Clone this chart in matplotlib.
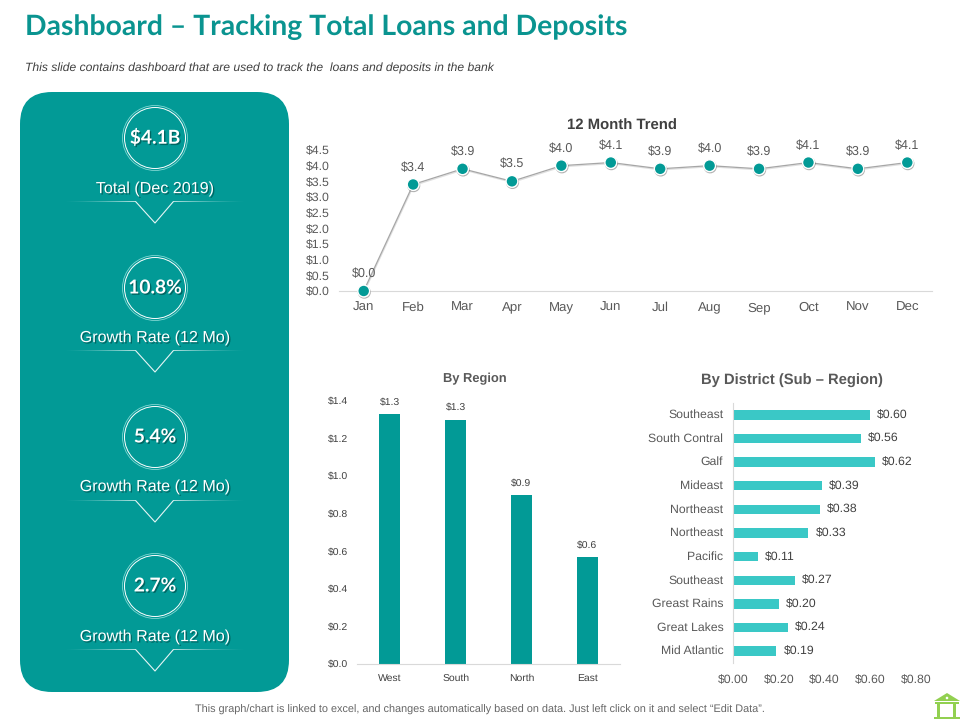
import numpy as np
import matplotlib
matplotlib.use("Agg")
import matplotlib.pyplot as plt
import matplotlib.patheffects as pe
from matplotlib.patches import FancyBboxPatch, Circle, Polygon, Rectangle

plt.rcParams['font.family'] = ['Liberation Sans', 'DejaVu Sans']
plt.rcParams['text.hinting'] = 'no_hinting'
plt.rcParams['text.hinting_factor'] = 8

# ---- data ----
months = ["Jan", "Feb", "Mar", "Apr", "May", "Jun", "Jul", "Aug", "Sep", "Oct", "Nov", "Dec"]
trend_values = [0.0, 3.4, 3.9, 3.5, 4.0, 4.1, 3.9, 4.0, 3.9, 4.1, 3.9, 4.1]
trend_ticks = [0.0, 0.5, 1.0, 1.5, 2.0, 2.5, 3.0, 3.5, 4.0, 4.5]

regions = ["West", "South", "North", "East"]
region_values = [1.33, 1.30, 0.90, 0.57]
region_labels = ["$1.3", "$1.3", "$0.9", "$0.6"]
region_ticks = [0.0, 0.2, 0.4, 0.6, 0.8, 1.0, 1.2, 1.4]

districts = ["Southeast", "South Contral", "Galf", "Mideast", "Northeast", "Northeast",
             "Pacific", "Southeast", "Greast Rains", "Great Lakes", "Mid Atlantic"]
district_values = [0.60, 0.56, 0.62, 0.39, 0.38, 0.33, 0.11, 0.27, 0.20, 0.24, 0.19]
district_ticks = [0.00, 0.20, 0.40, 0.60, 0.80]

kpi_values = ["$4.1B", "10.8%", "5.4%", "2.7%"]
kpi_labels = ["Total (Dec 2019)", "Growth Rate (12 Mo)", "Growth Rate (12 Mo)", "Growth Rate (12 Mo)"]

TEAL = "#029A96"
TURQ = "#3AC8C6"
W, H = 960, 720
fig = plt.figure(figsize=(9.6, 7.2), dpi=100, facecolor="white")


def px_axes(l, t, r, b):
    return fig.add_axes([l / W, 1 - b / H, (r - l) / W, (b - t) / H])


# ---- page layer in pixel coordinates ----
bg = fig.add_axes([0, 0, 1, 1], zorder=0)
bg.set_axis_off()

bg.add_patch(FancyBboxPatch((20 + 32, 92 + 32), 269 - 64, 600 - 64,
                            boxstyle="round,pad=32,rounding_size=32",
                            fc=TEAL, ec="none"))

text_shadow = [pe.SimplePatchShadow(offset=(1, -1), shadow_rgbFace="#00504d", alpha=0.7), pe.Normal()]

centers = [138, 288, 437, 586]
label_y = [189, 338, 487, 637]
rule_y = [202, 351, 501, 650]

grad = np.zeros((1, 256, 4))
grad[..., :3] = 1
grad[..., 3] = np.linspace(0, 1, 256) ** 1.5 * 0.7

for cy, ly, ry, val, lab in zip(centers, label_y, rule_y, kpi_values, kpi_labels):
    bg.add_patch(Circle((155, cy), 30.5, fc="none", ec="white", lw=0.7))
    bg.add_patch(Circle((155, cy), 32.5, fc="none", ec="#7fd6d2", lw=0.6))
    bg.text(155, cy, val, color="white", fontsize=13.8, fontweight="bold", family="Lato",
            ha="center", va="center", path_effects=text_shadow)
    bg.text(155, ly, lab, color="white", fontsize=11.6, ha="center", va="center",
            path_effects=text_shadow)
    bg.imshow(grad, extent=(62, 136, ry + 0.5, ry - 0.5), aspect="auto", zorder=2)
    bg.imshow(grad[:, ::-1], extent=(173, 248, ry + 0.5, ry - 0.5), aspect="auto", zorder=2)
    bg.plot([136, 155, 173], [ry, ry + 21, ry], color="white", lw=0.8, alpha=0.9)

bg.set_xlim(0, W)
bg.set_ylim(H, 0)

bg.text(25, 27, "Dashboard \u2013 Tracking Total Loans and Deposits", color="#0A9490",
        fontsize=20.45, fontweight="bold", family="Lato", ha="left", va="center")
bg.text(25, 68, "This slide contains dashboard that are used to track the  loans and deposits in the bank",
        color="#404040", fontsize=8.7, style="italic", ha="left", va="center")
bg.text(480, 710, "This graph/chart is linked to excel, and changes automatically based on data. Just left click on it and select \u201cEdit Data\u201d.",
        color="#666666", fontsize=7.8, ha="center", va="center")

# bank icon
GREEN = "#92D050"
bg.add_patch(Polygon([(934, 701), (947, 693), (960, 701)], fc=GREEN, ec="none"))
bg.add_patch(Circle((947, 698), 1.3, fc="white", ec="none"))
bg.add_patch(Rectangle((935, 702), 24, 2, fc=GREEN, ec="none"))
bg.add_patch(Rectangle((937, 704), 3, 13, fc=GREEN, ec="none"))
bg.add_patch(Rectangle((953, 704), 3, 13, fc=GREEN, ec="none"))
bg.add_patch(Rectangle((934, 717), 26, 2, fc=GREEN, ec="none"))

# ---- 12 month trend ----
ax1 = px_axes(339, 150, 932, 291)
ax1.patch.set_alpha(0)
x = np.arange(len(months))
ax1.plot(x, trend_values, color="#A6A6A6", lw=0.9, zorder=2, clip_on=False,
         path_effects=[pe.SimpleLineShadow(offset=(0.4, -0.8), alpha=0.12), pe.Normal()])
ax1.plot(x, trend_values, ls="none", marker="o", ms=8.5, mfc=TEAL, mec="white", mew=1.0,
         zorder=3, clip_on=False,
         path_effects=[pe.SimpleLineShadow(offset=(0.4, -0.8), alpha=0.3), pe.Normal()])
for xi, v in zip(x, trend_values):
    ax1.annotate(f"${v:.1f}", (xi, v), xytext=(0, 8), textcoords="offset points",
                 ha="center", va="bottom", fontsize=9, color="#595959")
ax1.set_xlim(-0.5, 11.5)
ax1.set_ylim(0, 4.5)
ax1.set_xticks(x, months)
ax1.set_yticks(trend_ticks, [f"${t:.1f}" for t in trend_ticks])
ax1.tick_params(axis="both", length=0, labelsize=8.8, labelcolor="#595959")
ax1.tick_params(axis="x", labelsize=9.5, pad=14.5)
ax1.tick_params(axis="y", pad=6.5)
for lbl in ax1.get_xticklabels():
    lbl.set_va("baseline")
for s in ("top", "right", "left"):
    ax1.spines[s].set_visible(False)
ax1.spines["bottom"].set_color("#D9D9D9")
fig.text(622 / W, 1 - 126 / H, "12 Month Trend", ha="center", va="center",
         fontsize=10.7, fontweight="bold", color="#404040")

# ---- by region ----
ax2 = px_axes(357, 401, 620, 664)
ax2.patch.set_alpha(0)
xr = np.arange(len(regions))
ax2.bar(xr, region_values, width=0.32, color=TEAL)
for xi, v, lab in zip(xr, region_values, region_labels):
    ax2.annotate(lab, (xi, v), xytext=(0, 5), textcoords="offset points",
                 ha="center", va="bottom", fontsize=7.5, color="#404040")
ax2.set_xlim(-0.5, 3.5)
ax2.set_ylim(0, 1.4)
ax2.set_xticks(xr, regions)
ax2.set_yticks(region_ticks, [f"${t:.1f}" for t in region_ticks])
ax2.tick_params(axis="both", length=0, labelsize=7.5, labelcolor="#404040")
ax2.tick_params(axis="x", pad=6.6)
ax2.tick_params(axis="y", pad=6.5)
for s in ("top", "right", "left"):
    ax2.spines[s].set_visible(False)
ax2.spines["bottom"].set_color("#D9D9D9")
fig.text(475 / W, 1 - 378.5 / H, "By Region", ha="center", va="center",
         fontsize=9.3, fontweight="bold", color="#595959")

# ---- by district ----
ax3 = px_axes(733, 403, 916, 663)
ax3.patch.set_alpha(0)
yd = np.arange(len(districts))
ax3.barh(yd, district_values, height=0.40, color=TURQ)
for yi, v in zip(yd, district_values):
    ax3.annotate(f"${v:.2f}", (v, yi), xytext=(5, 0), textcoords="offset points",
                 ha="left", va="center", fontsize=8.8, color="#404040")
ax3.set_xlim(0, 0.8)
ax3.set_ylim(len(districts) - 0.5, -0.5)
ax3.set_yticks(yd, districts)
ax3.set_xticks(district_ticks, [f"${t:.2f}" for t in district_ticks])
ax3.tick_params(axis="both", length=0, labelsize=8.8, labelcolor="#595959")
ax3.tick_params(axis="x", pad=8)
ax3.tick_params(axis="y", pad=7)
for lbl in ax3.get_yticklabels():
    lbl.set_va("center")
for s in ("top", "right", "bottom"):
    ax3.spines[s].set_visible(False)
ax3.spines["left"].set_color("#D9D9D9")
fig.text(792 / W, 1 - 380.5 / H, "By District (Sub \u2013 Region)", ha="center", va="center",
         fontsize=10.6, fontweight="bold", color="#595959")

fig.savefig("out.png", dpi=100)
